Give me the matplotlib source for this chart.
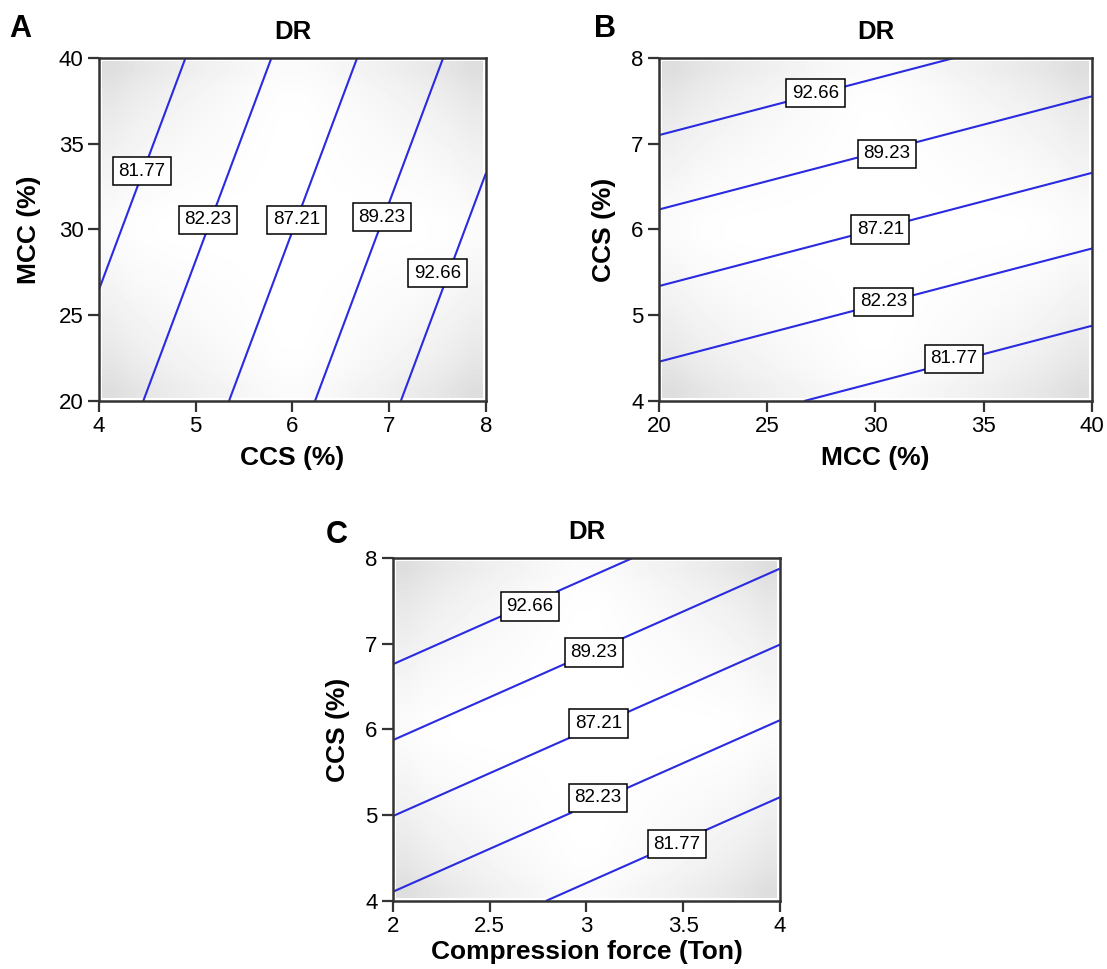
import matplotlib
matplotlib.use("Agg")
import matplotlib.pyplot as plt
import numpy as np

plt.rcParams['font.family'] = ['Liberation Sans', 'DejaVu Sans']

# contour labels (same order in every panel, low CCS -> high CCS)
level_labels = ["81.77", "82.23", "87.21", "89.23", "92.66"]

# panel A: CCS (x) vs MCC (y); lines x = x0 + (y - 20) / slope
a_x0 = [3.57, 4.458, 5.344, 6.233, 7.12]
a_slope = 15.1
a_label_x = [4.444, 5.127, 6.041, 6.925, 7.50]
a_label_y = [33.4, 30.57, 30.57, 30.72, 27.44]

# panel B: MCC (x) vs CCS (y); lines y = y0 + (x - 20) * slope
b_y0 = [3.557, 4.458, 5.34, 6.233, 7.10]
b_slope = 0.066
b_label_x = [33.63, 30.37, 30.22, 30.53, 27.23]
b_label_y = [4.493, 5.157, 6.0, 6.881, 7.591]

# panel C: compression force (x) vs CCS (y); lines y = y0 + (x - 2) * slope
c_y0 = [3.21, 4.108, 4.99, 5.876, 6.761]
c_slope = 1.0
c_label_x = [3.468, 3.06, 3.062, 3.038, 2.708]
c_label_y = [4.664, 5.202, 6.07, 6.898, 7.435]

line_col = '#2a2ae0'
spine_col = '#333333'


def vignette(ax, xlim, ylim):
    # light grey shading towards the corners, like the original export
    n = 18
    u = np.linspace(-1, 1, n)
    U, V = np.meshgrid(u, u)
    shade = 1 - 0.10 * np.abs(U * V) ** 1.2 - 0.03 * (U ** 8 + V ** 8) / 2
    mx = (xlim[1] - xlim[0]) * 0.008
    my = (ylim[1] - ylim[0]) * 0.01
    ax.imshow(shade, cmap='gray', vmin=0, vmax=1, interpolation='bilinear',
              extent=[xlim[0] + mx, xlim[1] - mx, ylim[0] + my, ylim[1] - my],
              aspect='auto', zorder=0)


def panel(ax, xlim, ylim, Z, X, Y, levels, lx, ly, inline, xlabel, ylabel, xticks, yticks, xpad, ypad):
    vignette(ax, xlim, ylim)
    order = np.argsort(levels)
    lev_sorted = np.array(levels)[order]
    cs = ax.contour(X, Y, Z, levels=lev_sorted, colors=line_col, linewidths=1.5, zorder=2)
    fmt = {lev: lab for lev, lab in zip(levels, level_labels)}
    texts = ax.clabel(cs, fmt=fmt, manual=list(zip(lx, ly)), inline=inline,
                      inline_spacing=6, fontsize=13.5, colors='black')
    for t in texts:
        t.set_rotation(0)
        t.set_bbox(dict(boxstyle='square,pad=0.3', fc='white', ec='black', lw=1.1))
        t.set_zorder(5)
    # keep labels where they sit in the original
    for t in texts:
        px, py = t.get_position()
        d = [(px - x) ** 2 / (xlim[1] - xlim[0]) ** 2 + (py - y) ** 2 / (ylim[1] - ylim[0]) ** 2
             for x, y in zip(lx, ly)]
        i = int(np.argmin(d))
        t.set_position((lx[i], ly[i]))
    ax.set_xlim(xlim)
    ax.set_ylim(ylim)
    ax.set_xticks(xticks)
    ax.set_yticks(yticks)
    ax.set_xticklabels([f"{v:g}" for v in xticks])
    ax.set_yticklabels([f"{v:g}" for v in yticks])
    ax.tick_params(direction='out', length=8, width=1.6, color=spine_col, labelsize=16, pad=3)
    for s in ax.spines.values():
        s.set_linewidth(1.8)
        s.set_color(spine_col)
    ax.set_xlabel(xlabel, fontsize=19, fontweight='bold', labelpad=xpad)
    ax.set_ylabel(ylabel, fontsize=19, fontweight='bold', labelpad=ypad)
    ax.set_title("DR", fontsize=18.5, fontweight='bold', pad=14)


fig = plt.figure(figsize=(11.07, 9.69), dpi=100)

# A
ax_a = fig.add_axes([0.0894, 0.5862, 0.3496, 0.354])
xa, ya = np.meshgrid(np.linspace(4, 8, 200), np.linspace(20, 40, 200))
za = xa - (ya - 20) / a_slope
panel(ax_a, (4, 8), (20, 40), za, xa, ya, a_x0, a_label_x, a_label_y, False,
      "CCS (%)", "MCC (%)", [4, 5, 6, 7, 8], [20, 25, 30, 35, 40], 6, 13)

# B
ax_b = fig.add_axes([0.5953, 0.5862, 0.3911, 0.354])
xb, yb = np.meshgrid(np.linspace(20, 40, 200), np.linspace(4, 8, 200))
zb = yb - (xb - 20) * b_slope
panel(ax_b, (20, 40), (4, 8), zb, xb, yb, b_y0, b_label_x, b_label_y, True,
      "MCC (%)", "CCS (%)", [20, 25, 30, 35, 40], [4, 5, 6, 7, 8], 6, 11)

# C
ax_c = fig.add_axes([0.355, 0.0702, 0.3496, 0.354])
xc, yc = np.meshgrid(np.linspace(2, 4, 200), np.linspace(4, 8, 200))
zc = yc - (xc - 2) * c_slope
panel(ax_c, (2, 4), (4, 8), zc, xc, yc, c_y0, c_label_x, c_label_y, True,
      "Compression force (Ton)", "CCS (%)", [2, 2.5, 3, 3.5, 4], [4, 5, 6, 7, 8], 2, 11)

fig.text(9 / 1107, 1 - 14 / 969, "A", fontsize=22, fontweight='bold', va='top', ha='left')
fig.text(594 / 1107, 1 - 14 / 969, "B", fontsize=22, fontweight='bold', va='top', ha='left')
fig.text(326 / 1107, 1 - 520 / 969, "C", fontsize=22, fontweight='bold', va='top', ha='left')

fig.savefig("out.png", dpi=100)
